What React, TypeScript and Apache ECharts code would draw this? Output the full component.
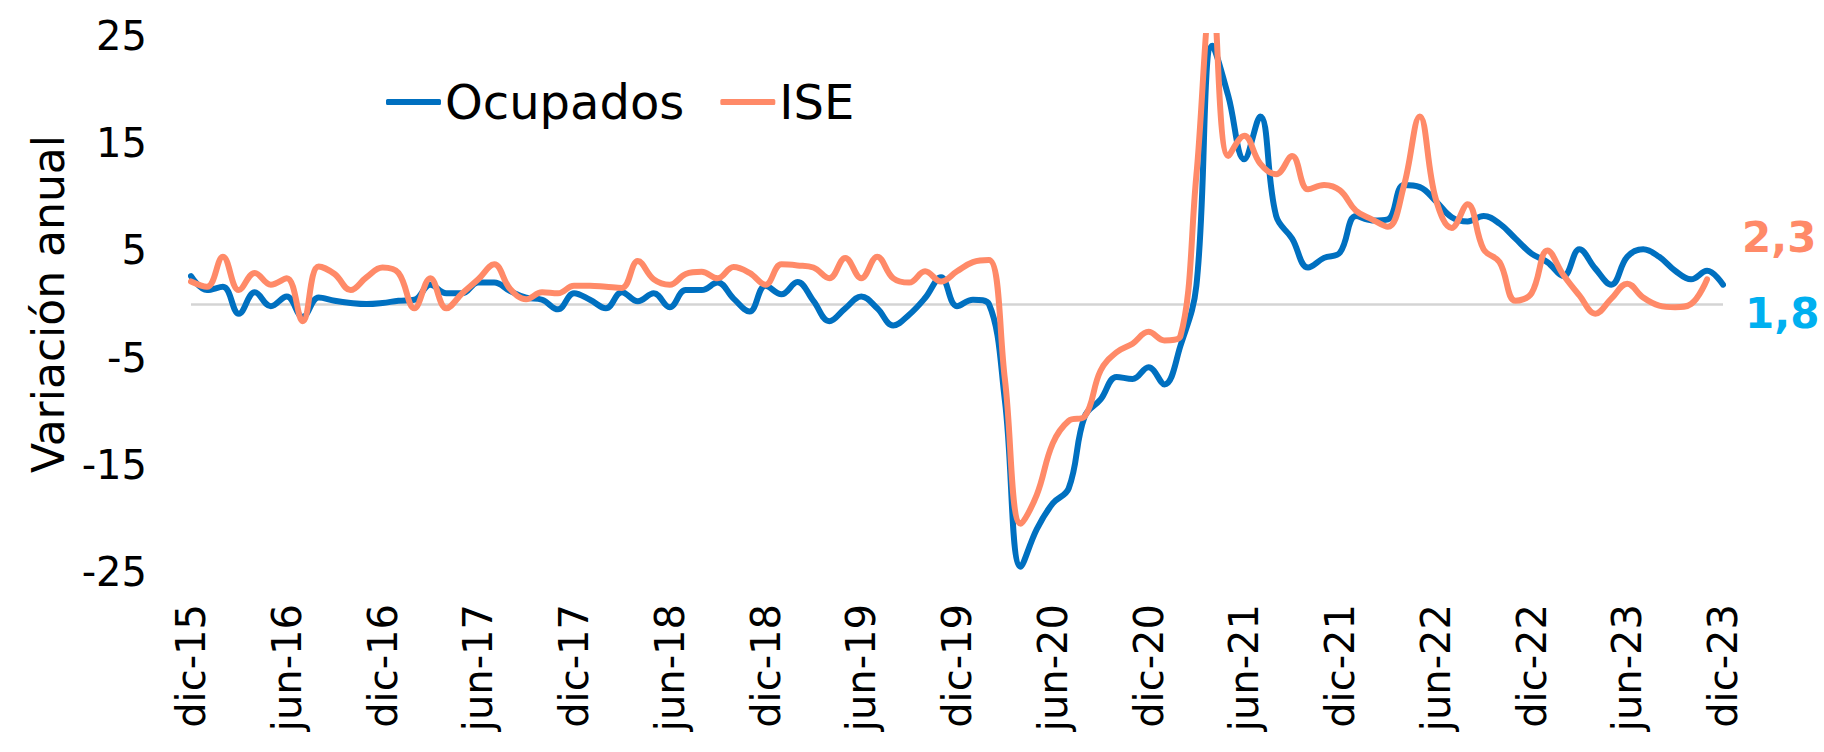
import React, { useEffect, useRef } from "react";
import * as echarts from "echarts";

const MONTHS = ["ene", "feb", "mar", "abr", "may", "jun", "jul", "ago", "sep", "oct", "nov", "dic"];
const YEARS = ["15", "16", "17", "18", "19", "20", "21", "22", "23"];

// dic-15 ... dic-23 (monthly)
const categories: string[] = ["dic-15"];
for (let y = 1; y < YEARS.length; y++) {
  for (const m of MONTHS) categories.push(`${m}-${YEARS[y]}`);
}

const ocupados = [
  2.6, 1.3, 1.6, -0.9, 1.1, -0.2, 0.7, -1.2, 0.6, 0.3,
  0.1, 0.0, 0.1, 0.3, 0.4, 1.8, 1.0, 1.0, 2.0, 2.0,
  1.2, 0.6, 0.4, -0.5, 1.0, 0.4, -0.4, 1.1, 0.25, 1.0,
  -0.3, 1.3, 1.3, 2.0, 0.5, -0.7, 1.7, 0.9, 2.05, 0.3,
  -1.6, -0.4, 0.7, -0.4, -2.0, -1.0, 0.56, 2.5, -0.2, 0.4,
  0.0, -9.0, -24.5, -21.0, -18.6, -17.2, -10.5, -8.9, -6.8, -7.0,
  -5.9, -7.5, -3.9, 1.7, 24.1, 19.4, 13.5, 17.5, 8.2, 6.1,
  3.4, 4.3, 4.8, 8.2, 7.8, 7.9, 11.1, 10.9, 9.6, 8.1,
  7.7, 8.2, 7.5, 6.1, 4.7, 3.9, 2.6, 5.1, 3.3, 1.8,
  4.4, 5.1, 4.4, 3.1, 2.3, 3.1, 1.8,
];

const ise = [
  2.1, 1.6, 4.4, 1.3, 2.9, 1.8, 2.4, -1.6, 3.5, 2.8,
  1.3, 2.5, 3.4, 2.9, -0.4, 2.4, -0.4, 1.0, 2.3, 3.7,
  1.4, 0.45, 1.1, 1.0, 1.7, 1.7, 1.6, 1.5, 4.0, 2.3,
  1.8, 2.8, 3.0, 2.4, 3.45, 2.9, 1.8, 3.7, 3.6, 3.4,
  2.4, 4.3, 2.4, 4.4, 2.4, 2.0, 3.05, 2.1, 3.05, 3.9,
  4.1, -7.0, -20.5, -17.8, -13.0, -10.9, -10.5, -6.2, -4.5, -3.7,
  -2.6, -3.4, -3.0, 12.0, 29.0, 13.8, 15.7, 13.1, 12.1, 13.8,
  10.7, 11.1, 10.6, 8.7, 7.9, 7.2, 11.0, 17.5, 9.8, 7.1,
  9.3, 5.1, 3.9, 0.3, 1.0, 5.0, 2.7, 0.8, -0.9, 0.5,
  1.9, 0.6, -0.15, -0.3, 0.0, 2.3,
];

const SERIES_NAMES = ["Ocupados", "ISE"];
const Y_MIN = -25;
const Y_MAX = 25;
const Y_INTERVAL = 10;

const BLUE = "#0070C0";
const ORANGE = "#FF8A68";
const LIGHTBLUE = "#00B0F0";
const FONT = "DejaVu Sans";

const fmt = (v: number) => v.toFixed(1).replace(".", ",");

export default function App() {
  const ref = useRef<HTMLDivElement>(null);
  useEffect(() => {
    if (!ref.current) return;
    const chart = echarts.init(ref.current, null, { renderer: "svg" });
    chart.setOption({
      animation: false,
      backgroundColor: "#ffffff",
      textStyle: { fontFamily: FONT },
      grid: { left: 191, right: 101, top: 36, bottom: 180, containLabel: false },
      legend: {
        left: 381,
        top: 73,
        itemWidth: 55,
        itemHeight: 6,
        itemGap: 36,
        icon: "roundRect",
        textStyle: { fontSize: 48, color: "#000", fontFamily: FONT, padding: [0, 0, 0, -1] },
        data: [
          { name: SERIES_NAMES[0], itemStyle: { color: BLUE } },
          { name: SERIES_NAMES[1], itemStyle: { color: ORANGE } },
        ],
      },
      xAxis: {
        type: "category",
        data: categories,
        boundaryGap: false,
        axisLine: { show: false, onZero: false },
        axisTick: { show: false },
        axisLabel: {
          interval: 5,
          rotate: 90,
          fontSize: 40,
          color: "#000",
          fontFamily: FONT,
          margin: 32,
        },
        splitLine: { show: false },
      },
      yAxis: {
        type: "value",
        min: Y_MIN,
        max: Y_MAX,
        interval: Y_INTERVAL,
        axisLine: { show: false },
        axisTick: { show: false },
        splitLine: { show: false },
        axisLabel: { fontSize: 40, color: "#000", fontFamily: FONT, margin: 44 },
        name: "Variación anual",
        nameLocation: "middle",
        nameGap: 120,
        nameTextStyle: { fontSize: 44, color: "#000", fontFamily: FONT },
      },
      series: [
        {
          name: SERIES_NAMES[0],
          type: "line",
          data: ocupados,
          smooth: 0.4,
          symbol: "none",
          lineStyle: { color: BLUE, width: 6, cap: "round", join: "round" },
          itemStyle: { color: BLUE },
          z: 3,
          markLine: {
            silent: true,
            symbol: "none",
            label: { show: false },
            lineStyle: { color: "#D4D4D4", width: 2.5, type: "solid" },
            data: [{ yAxis: 0 }],
            z: 1,
          },
        },
        {
          name: SERIES_NAMES[1],
          type: "line",
          data: ise,
          smooth: 0.4,
          symbol: "none",
          lineStyle: { color: ORANGE, width: 6, cap: "round", join: "round" },
          itemStyle: { color: ORANGE },
          z: 4,
        },
      ],
      graphic: [
        {
          type: "text",
          left: 1742,
          top: 216,
          style: {
            text: fmt(ise[ise.length - 1]),
            fill: ORANGE,
            font: `bold 42px "${FONT}"`,
          },
        },
        {
          type: "text",
          left: 1745,
          top: 292,
          style: {
            text: fmt(ocupados[ocupados.length - 1]),
            fill: LIGHTBLUE,
            font: `bold 42px "${FONT}"`,
          },
        },
      ],
    });
    return () => chart.dispose();
  }, []);
  return (
    <div
      ref={ref}
      style={{ position: "fixed", left: 0, top: 0, width: 1824, height: 752, background: "#fff" }}
    />
  );
}
